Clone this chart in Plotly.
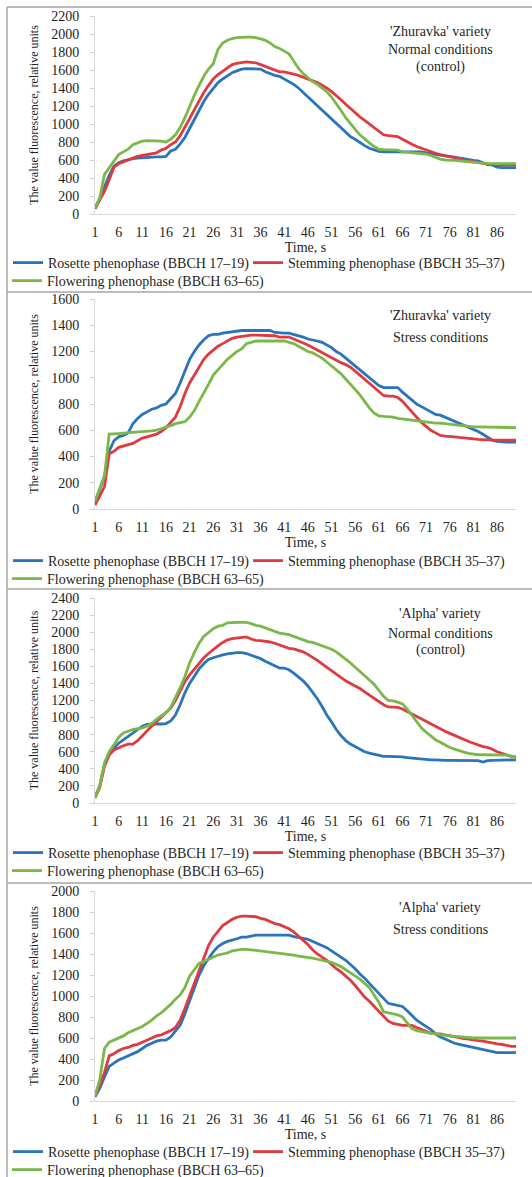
import plotly.graph_objects as go

W, H = 532, 1177
time_s = list(range(1, 91))
x_ticks = list(range(1, 90, 5))

series_names = ["Rosette phenophase (BBCH 17–19)",
                "Stemming phenophase (BBCH 35–37)",
                "Flowering phenophase (BBCH 63–65)"]
series_colors = ["#2a74bb", "#df3a3f", "#7ab84a"]

# 'Zhuravka' variety, normal conditions (control)
zh_norm_rosette = [60,170,300,430,530,570,590,605,615,620,
                   625,630,630,635,635,640,700,720,780,850,
                   950,1050,1150,1250,1330,1400,1460,1500,1540,1570,
                   1590,1610,1615,1615,1615,1610,1580,1560,1540,1530,
                   1500,1470,1440,1400,1350,1300,1250,1200,1150,1100,
                   1050,1000,950,900,860,830,790,760,730,710,
                   695,690,690,690,690,690,690,690,690,690,
                   680,670,660,650,645,640,630,620,610,600,
                   595,590,570,550,545,520,515,515,515,515]
zh_norm_stemming = [60,150,250,380,520,560,580,600,620,640,
                    650,660,665,680,710,730,770,800,870,960,
                    1060,1160,1260,1350,1430,1500,1550,1590,1630,1660,
                    1675,1685,1690,1685,1680,1660,1640,1620,1600,1580,
                    1580,1570,1555,1540,1520,1500,1480,1460,1430,1400,
                    1360,1320,1270,1220,1170,1120,1080,1040,1000,960,
                    920,880,870,865,860,830,800,775,750,730,
                    710,690,675,660,650,640,625,610,600,590,
                    580,570,560,555,550,545,545,545,545,545]
zh_norm_flowering = [70,180,440,510,590,660,690,720,770,790,
                     810,815,815,815,810,800,830,880,960,1070,
                     1200,1320,1430,1530,1610,1670,1830,1900,1930,1950,
                     1960,1965,1965,1965,1960,1945,1930,1900,1860,1840,
                     1810,1780,1700,1620,1560,1510,1470,1440,1400,1360,
                     1300,1230,1150,1070,1000,940,880,830,790,750,
                     720,715,715,715,710,690,685,680,675,670,
                     665,650,630,610,600,600,595,590,585,575,
                     570,565,560,560,560,560,560,560,560,560]

# 'Zhuravka' variety, stress conditions
zh_stress_rosette = [50,150,250,440,520,550,560,580,650,690,
                     720,740,760,770,790,800,840,880,960,1050,
                     1140,1200,1250,1290,1320,1330,1330,1340,1345,1355,
                     1360,1360,1360,1360,1360,1360,1360,1360,1345,1340,
                     1340,1340,1330,1325,1310,1295,1290,1280,1270,1250,
                     1230,1200,1180,1150,1120,1090,1060,1030,1000,970,
                     940,925,925,925,925,890,860,830,800,780,
                     760,740,720,715,700,685,670,655,640,625,
                     610,590,570,550,525,515,510,510,510,510]
zh_stress_stemming = [30,100,170,420,440,470,480,490,500,520,
                      540,550,560,570,590,620,660,700,780,880,
                      960,1020,1080,1140,1180,1210,1240,1260,1280,1300,
                      1310,1315,1325,1325,1325,1325,1325,1325,1320,1310,
                      1310,1310,1295,1280,1270,1250,1230,1210,1190,1170,
                      1150,1130,1115,1100,1080,1050,1020,990,960,930,
                      900,865,860,860,850,820,780,740,700,660,
                      630,600,580,560,555,555,550,545,540,535,
                      530,530,528,525,525,525,525,525,525,525]
zh_stress_flowering = [60,150,250,570,570,575,578,580,582,585,
                       588,592,595,600,610,620,635,650,660,665,
                       700,750,820,880,950,1020,1060,1100,1140,1170,
                       1200,1220,1260,1270,1280,1280,1280,1280,1280,1280,
                       1280,1270,1260,1240,1220,1200,1190,1170,1150,1120,
                       1090,1060,1030,990,950,910,870,820,770,730,
                       710,705,705,700,690,685,680,680,675,670,
                       665,655,655,655,650,645,645,640,635,630,
                       625,625,625,625,622,620,620,620,620,620]

# 'Alpha' variety, normal conditions (control)
al_norm_rosette = [70,200,450,580,640,700,740,780,830,870,
                   900,920,925,925,925,930,960,1030,1150,1290,
                   1400,1490,1570,1630,1680,1700,1720,1735,1745,1755,
                   1760,1760,1750,1730,1710,1690,1660,1630,1600,1580,
                   1580,1560,1520,1480,1430,1370,1300,1220,1130,1030,
                   950,860,790,730,690,660,630,600,585,570,
                   555,545,545,545,545,540,530,525,515,510,
                   510,505,505,500,500,500,500,500,500,500,
                   500,495,480,495,500,500,500,500,500,505]
al_norm_stemming = [60,180,430,560,620,650,670,690,690,730,
                    790,850,900,950,1000,1060,1110,1200,1320,1420,
                    1500,1570,1640,1700,1750,1800,1840,1880,1910,1925,
                    1930,1935,1945,1920,1905,1900,1895,1885,1870,1850,
                    1835,1810,1805,1790,1770,1740,1710,1670,1630,1590,
                    1540,1500,1460,1430,1400,1370,1340,1300,1260,1220,
                    1180,1150,1125,1120,1120,1100,1070,1040,1010,980,
                    950,920,890,860,840,815,790,765,745,720,
                    700,680,660,650,630,600,580,560,545,540]
al_norm_flowering = [60,200,470,600,680,770,820,840,860,870,
                     880,900,930,980,1020,1060,1120,1230,1350,1480,
                     1640,1760,1870,1950,2000,2040,2070,2080,2110,2115,
                     2115,2115,2115,2100,2080,2070,2050,2030,2010,1990,
                     1980,1970,1950,1930,1910,1890,1880,1860,1840,1820,
                     1800,1770,1730,1680,1640,1590,1540,1490,1440,1390,
                     1320,1250,1200,1195,1180,1160,1100,1030,960,880,
                     830,780,740,710,680,650,630,610,595,580,
                     570,565,565,565,565,565,565,560,550,520]

# 'Alpha' variety, stress conditions
al_stress_rosette = [40,120,230,330,360,390,410,430,450,470,
                     500,530,550,570,580,580,610,660,720,830,
                     960,1080,1200,1290,1360,1420,1470,1500,1520,1530,
                     1545,1560,1560,1570,1580,1580,1580,1580,1580,1580,
                     1580,1580,1565,1560,1550,1540,1520,1500,1480,1460,
                     1430,1400,1370,1340,1300,1260,1210,1170,1120,1070,
                     1020,980,930,920,910,900,860,810,770,740,
                     710,680,640,610,590,570,550,540,530,520,
                     505,500,490,475,465,460,460,460,460,460]
al_stress_stemming = [50,150,270,430,450,480,500,510,530,540,
                      560,580,600,620,630,650,670,700,770,880,
                      1000,1120,1240,1370,1480,1560,1620,1670,1700,1730,
                      1750,1760,1760,1760,1755,1740,1730,1710,1690,1680,
                      1660,1640,1610,1570,1530,1490,1440,1400,1370,1340,
                      1300,1260,1230,1190,1150,1100,1040,990,950,900,
                      850,800,760,740,730,720,720,720,700,680,
                      660,645,640,640,630,620,610,600,595,590,
                      580,575,570,560,555,545,540,530,520,520]
al_stress_flowering = [50,200,500,560,580,600,620,650,670,690,
                       710,740,770,810,840,880,920,970,1010,1080,
                       1190,1250,1310,1330,1350,1370,1390,1400,1410,1430,
                       1440,1445,1445,1440,1435,1430,1425,1420,1415,1410,
                       1400,1395,1390,1380,1375,1370,1360,1350,1340,1330,
                       1320,1300,1280,1250,1220,1190,1160,1120,1080,1010,
                       940,850,840,830,820,800,740,690,670,660,
                       650,645,640,630,625,620,615,610,605,600,
                       600,600,600,600,600,600,600,600,600,600]

panel_data = [
    [zh_norm_rosette, zh_norm_stemming, zh_norm_flowering],
    [zh_stress_rosette, zh_stress_stemming, zh_stress_flowering],
    [al_norm_rosette, al_norm_stemming, al_norm_flowering],
    [al_stress_rosette, al_stress_stemming, al_stress_flowering],
]
y_max = [2200, 1600, 2400, 2000]
panel_labels = [
    ["'Zhuravka' variety", "Normal conditions", "(control)"],
    ["'Zhuravka' variety", "Stress conditions"],
    ["'Alpha' variety", "Normal conditions", "(control)"],
    ["'Alpha' variety", "Stress conditions"],
]

# ---- layout geometry (pixels) ----
x_left, x_right = 95, 516
panel_y = [(214, 16), (509, 299), (803, 598), (1101, 891)]   # (y of 0, y of max)
legend_rows = [(263, 281), (561, 579), (853, 871), (1152, 1170)]
legend_x = [8, 248, 7]          # left edge of each legend entry
legend_row_of = [0, 0, 1]       # which row each series sits in
label_y = [[31, 50, 67], [315, 337], [613, 633, 650], [907, 929]]
sep_lines = [7, 292, 589, 883]

FONT = "Liberation Serif"
TXT = "#1e1e1e"

def px(v):
    return v / W

def py(v):
    return 1 - v / H

fig = go.Figure()
layout = dict(
    width=W, height=H, margin=dict(l=0, r=0, t=0, b=0, autoexpand=False),
    paper_bgcolor="white", plot_bgcolor="white",
    font=dict(family=FONT, color=TXT),
    showlegend=True,
    annotations=[], shapes=[],
)

def legend_id(n):
    return "legend" if n == 1 else "legend" + str(n)

for p in range(4):
    sfx = "" if p == 0 else str(p + 1)
    xa, ya = "x" + sfx, "y" + sfx
    for s in range(3):
        leg = legend_id(3 * p + s + 1)
        fig.add_trace(go.Scatter(
            x=time_s, y=panel_data[p][s], mode="lines",
            name=series_names[s], line=dict(color=series_colors[s], width=2.8),
            xaxis=xa, yaxis=ya, legend=leg, hoverinfo="skip",
        ))
        layout[leg] = dict(
            orientation="h", x=px(legend_x[s]), xanchor="left",
            y=py(legend_rows[p][legend_row_of[s]]), yanchor="middle",
            font=dict(size=14, color=TXT), bgcolor="rgba(0,0,0,0)", itemwidth=30,
        )
    y0, y1 = panel_y[p]
    layout["xaxis" + sfx] = dict(
        domain=[px(x_left), px(x_right)], anchor=ya, range=[1, 90],
        tickvals=x_ticks, ticktext=[str(t) for t in x_ticks],
        showgrid=False, zeroline=False, showline=True, linecolor="#d9d9d9", linewidth=1,
        ticks="", tickfont=dict(size=14, color=TXT), ticklabelstandoff=5,
        title=dict(text="Time, s", font=dict(size=14, color=TXT), standoff=1),
    )
    layout["yaxis" + sfx] = dict(
        domain=[py(y0), py(y1)], anchor=xa, range=[0, y_max[p]], dtick=200,
        showgrid=False, zeroline=False, showline=True, linecolor="#d9d9d9", linewidth=1,
        ticks="outside", ticklen=4, tickwidth=1, tickcolor="#d0d0d0",
        tickfont=dict(size=14, color=TXT), ticklabelstandoff=8,
        title=dict(text="The value fluorescence, relative units",
                   font=dict(size=12, color=TXT), standoff=10),
    )
    for k, txt in enumerate(panel_labels[p]):
        layout["annotations"].append(dict(
            text=txt, xref="paper", yref="paper", x=px(440), y=py(label_y[p][k]),
            xanchor="center", yanchor="middle", showarrow=False,
            font=dict(size=14, color=TXT, family=FONT),
        ))

for yy in sep_lines:
    layout["shapes"].append(dict(type="line", xref="paper", yref="paper",
                                 x0=px(7), x1=1, y0=py(yy), y1=py(yy),
                                 line=dict(color="#a6a6a6", width=1.5)))
layout["shapes"].append(dict(type="line", xref="paper", yref="paper",
                             x0=px(7), x1=px(7), y0=py(7), y1=0,
                             line=dict(color="#a6a6a6", width=1.5)))

fig.update_layout(**layout)
fig.write_html("out.html")
